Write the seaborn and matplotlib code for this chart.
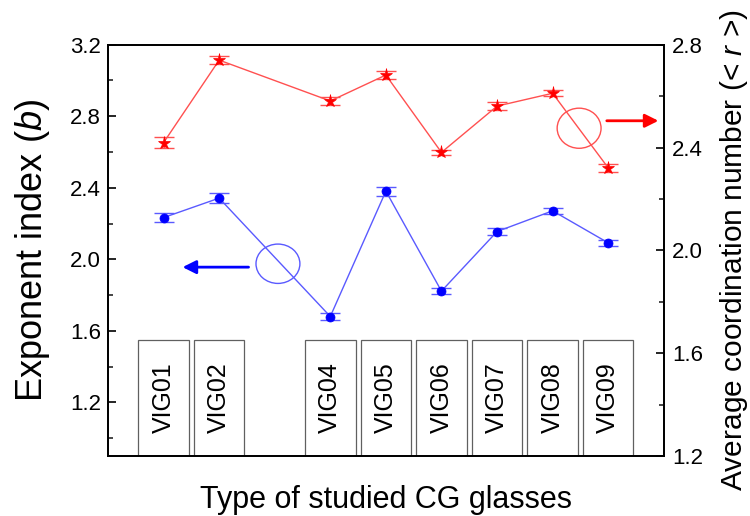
import numpy as np
import pandas as pd
import matplotlib
matplotlib.use('Agg')
import matplotlib.pyplot as plt
from matplotlib.patches import Ellipse
from matplotlib.ticker import MultipleLocator, FixedLocator
import seaborn as sns

# ---- data ----
samples = ['VIG01', 'VIG02', 'VIG04', 'VIG05', 'VIG06', 'VIG07', 'VIG08', 'VIG09']
positions = [1, 2, 4, 5, 6, 7, 8, 9]
exponent_b = [2.233, 2.342, 1.680, 2.381, 1.822, 2.155, 2.271, 2.092]
exponent_err = [0.026, 0.026, 0.017, 0.025, 0.018, 0.022, 0.017, 0.015]
coord_r = [2.419, 2.740, 2.581, 2.682, 2.381, 2.561, 2.611, 2.321]
coord_err = [0.021, 0.016, 0.015, 0.014, 0.011, 0.016, 0.012, 0.016]
left_ticks = [1.2, 1.6, 2.0, 2.4, 2.8, 3.2]
right_ticks = [1.2, 1.6, 2.0, 2.4, 2.8]

sns.set_theme(style='white')
plt.rcParams['font.family'] = ['Liberation Sans', 'DejaVu Sans']
plt.rcParams['mathtext.fontset'] = 'custom'
plt.rcParams['mathtext.it'] = 'Liberation Sans:italic'
plt.rcParams['mathtext.rm'] = 'Liberation Sans'

fig = plt.figure(figsize=(7.5, 5.16), dpi=100)
ax = fig.add_axes([0.144, 0.1163, 0.741, 0.7971])
ax2 = ax.twinx()

LEFT_MIN, LEFT_MAX = 0.9, 3.2
RIGHT_MIN, RIGHT_MAX = 1.2, 2.8
BOX_TOP = 1.55

# label boxes
ax.bar(positions, [BOX_TOP - LEFT_MIN] * len(positions), bottom=LEFT_MIN, width=0.91,
       color='white', edgecolor='#606060', linewidth=0.9, zorder=1)
for p, s in zip(positions, samples):
    ax.text(p, (BOX_TOP + LEFT_MIN) / 2 + 0.003, s, rotation=90, ha='center', va='center',
            fontsize=18, color='black', zorder=2)

df_b = pd.DataFrame({'pos': positions, 'b': exponent_b})
df_r = pd.DataFrame({'pos': positions, 'r': coord_r})

blue_line = '#5a5aff'
red_line = '#ff5050'

sns.lineplot(data=df_b, x='pos', y='b', ax=ax, color=blue_line, linewidth=1.0,
             marker='o', markersize=6.5, markerfacecolor='blue', markeredgecolor='blue',
             markeredgewidth=0.5, zorder=4)
ax.errorbar(positions, exponent_b, yerr=exponent_err, fmt='none', ecolor=blue_line,
            elinewidth=1.0, capsize=7, capthick=1.0, zorder=3)

sns.lineplot(data=df_r, x='pos', y='r', ax=ax2, color=red_line, linewidth=1.0,
             marker='*', markersize=9.5, markerfacecolor='red', markeredgecolor='red',
             markeredgewidth=0.5, zorder=4)
ax2.errorbar(positions, coord_r, yerr=coord_err, fmt='none', ecolor=red_line,
             elinewidth=1.0, capsize=7, capthick=1.0, zorder=3)

# circles and arrows
ax.add_patch(Ellipse((3.058, 1.975), 0.79, 0.22, fill=False, edgecolor=blue_line, linewidth=1.0))
ax.annotate('', xy=(1.342, 1.956), xytext=(2.529, 1.956),
            arrowprops=dict(arrowstyle='-|>', color='blue', lw=2, mutation_scale=20,
                            shrinkA=0, shrinkB=0))
ax2.add_patch(Ellipse((8.477, 2.475), 0.79, 0.156, fill=False, edgecolor=red_line, linewidth=1.0))
ax2.annotate('', xy=(9.904, 2.504), xytext=(8.975, 2.504),
             arrowprops=dict(arrowstyle='-|>', color='red', lw=2, mutation_scale=20,
                             shrinkA=0, shrinkB=0))

# axes
ax.set_xlim(0, 10)
ax.set_ylim(LEFT_MIN, LEFT_MAX)
ax2.set_ylim(RIGHT_MIN, RIGHT_MAX)
ax.set_xticks([])
ax2.set_xticks([])
ax.yaxis.set_major_locator(FixedLocator(left_ticks))
ax.yaxis.set_minor_locator(MultipleLocator(0.2))
ax2.yaxis.set_major_locator(FixedLocator(right_ticks))
ax2.yaxis.set_minor_locator(MultipleLocator(0.2))
ax.set_yticklabels([f'{t:.1f}' for t in left_ticks])
ax2.set_yticklabels([f'{t:.1f}' for t in right_ticks])

ax.tick_params(axis='y', which='major', direction='in', length=6, width=1.2,
               labelsize=16, pad=5, left=True, right=False, colors='black')
ax.tick_params(axis='y', which='minor', direction='in', length=3.5, width=1.2, left=True, right=False)
ax2.tick_params(axis='y', which='major', direction='in', length=6, width=1.2,
                labelsize=16, pad=6, right=True, left=False, colors='black')
ax2.tick_params(axis='y', which='minor', direction='in', length=3.5, width=1.2, right=True, left=False)

for a in (ax, ax2):
    for sp in a.spines.values():
        sp.set_color('black')
        sp.set_linewidth(1.3)
        sp.set_visible(True)

ax.set_xlabel('Type of studied CG glasses', fontsize=22, labelpad=21, color='black')
ax.set_ylabel('Exponent index ($\\it{b}$)', fontsize=26, color='black')
ax.yaxis.set_label_coords(-0.1, 0.5)
ax2.set_ylabel('Average coordination number (< $\\it{r}$ >)', fontsize=21.5, color='black')
ax2.yaxis.set_label_coords(1.097, 0.5)

fig.savefig('out.png', dpi=100)
